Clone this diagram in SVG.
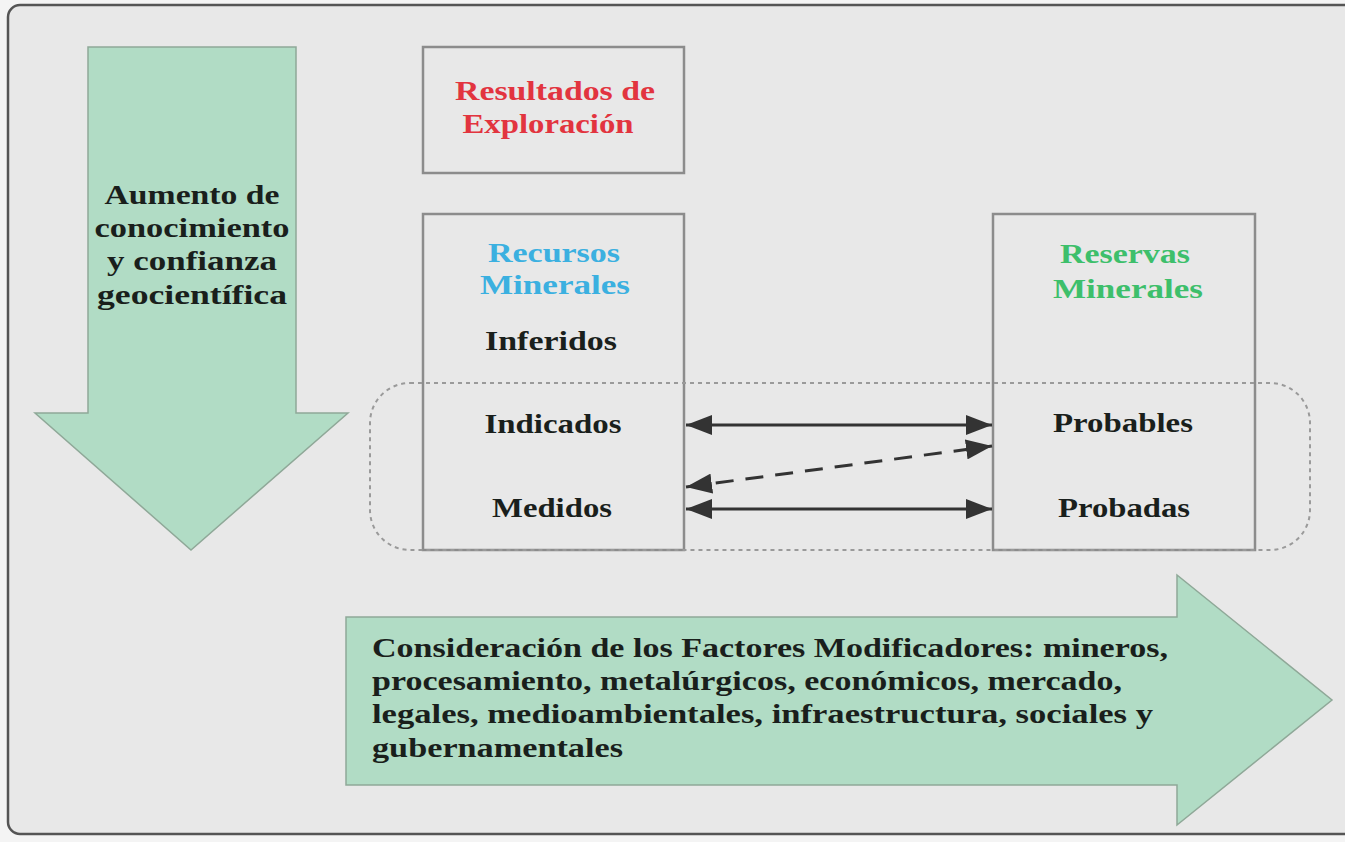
<svg xmlns="http://www.w3.org/2000/svg" width="1345" height="842" viewBox="0 0 1345 842">
<defs>
<style>
.frame{fill:#e8e8e8;stroke:#555;stroke-width:2.5}
.green{fill:#b1dcc5;stroke:#8fa898;stroke-width:1.5}
.box{fill:#e8e8e8;stroke:#8c8c8c;stroke-width:2.5}
.grp{fill:none;stroke:#9a9a9a;stroke-width:2;stroke-dasharray:4 4}
.conn{stroke:#333;stroke-width:3;fill:none}
.dash{stroke-dasharray:18 12}
text{font-family:"Liberation Serif","Times New Roman",serif;font-weight:bold;font-size:27px}
.c{text-anchor:middle}
.dark{fill:#1a1f1c}
.red{fill:#e2343f}
.blue{fill:#3bb0e0}
.grn{fill:#3dbf6b}
</style>
<marker id="ah" viewBox="0 0 26 20" refX="26" refY="10" markerWidth="26" markerHeight="20" markerUnits="userSpaceOnUse" orient="auto-start-reverse">
<path d="M0,0 L26,10 L0,20 Z" fill="#333"/>
</marker>
</defs>
<rect x="0" y="0" width="1345" height="842" fill="#f4f4f4"/>
<rect class="frame" x="8" y="5" width="1360" height="829" rx="12"/>

<g id="arrow-down">
<polygon class="green" points="88,47 296,47 296,413 348,413 191,550 35,413 88,413"/>
<text class="c dark" x="192" y="204" textLength="175" lengthAdjust="spacingAndGlyphs">Aumento de</text>
<text class="c dark" x="192" y="237" textLength="195" lengthAdjust="spacingAndGlyphs">conocimiento</text>
<text class="c dark" x="192" y="270" textLength="170" lengthAdjust="spacingAndGlyphs">y confianza</text>
<text class="c dark" x="192" y="304" textLength="190" lengthAdjust="spacingAndGlyphs">geocientífica</text>
</g>

<g id="resultados">
<rect class="box" x="423" y="47" width="261" height="126"/>
<text class="c red" x="555" y="100" textLength="200" lengthAdjust="spacingAndGlyphs">Resultados de</text>
<text class="c red" x="548" y="133" textLength="171" lengthAdjust="spacingAndGlyphs">Exploración</text>
</g>

<g id="recursos">
<rect class="box" x="423" y="214" width="261" height="336"/>
<text class="c blue" x="554" y="262" textLength="132" lengthAdjust="spacingAndGlyphs">Recursos</text>
<text class="c blue" x="555" y="294" textLength="150" lengthAdjust="spacingAndGlyphs">Minerales</text>
<text class="c dark" x="551" y="350" textLength="132" lengthAdjust="spacingAndGlyphs">Inferidos</text>
<text class="c dark" x="553" y="433" textLength="137" lengthAdjust="spacingAndGlyphs">Indicados</text>
<text class="c dark" x="552" y="517" textLength="120" lengthAdjust="spacingAndGlyphs">Medidos</text>
</g>

<g id="reservas">
<rect class="box" x="993" y="214" width="262" height="336"/>
<text class="c grn" x="1125" y="263" textLength="130" lengthAdjust="spacingAndGlyphs">Reservas</text>
<text class="c grn" x="1128" y="298" textLength="150" lengthAdjust="spacingAndGlyphs">Minerales</text>
<text class="c dark" x="1123" y="432" textLength="140" lengthAdjust="spacingAndGlyphs">Probables</text>
<text class="c dark" x="1124" y="517" textLength="132" lengthAdjust="spacingAndGlyphs">Probadas</text>
</g>

<g id="grupo">
<rect class="grp" x="370" y="383" width="940" height="167" rx="40"/>
</g>

<g id="connectors">
<line class="conn" x1="686" y1="425" x2="992" y2="425" marker-start="url(#ah)" marker-end="url(#ah)"/>
<line class="conn dash" x1="686" y1="487" x2="992" y2="446" marker-start="url(#ah)" marker-end="url(#ah)"/>
<line class="conn" x1="686" y1="509" x2="992" y2="509" marker-start="url(#ah)" marker-end="url(#ah)"/>
</g>

<g id="arrow-right">
<polygon class="green" points="346,617 1177,617 1177,575 1332,700 1177,825 1177,785 346,785"/>
<text class="dark" x="372" y="657" textLength="796" lengthAdjust="spacingAndGlyphs">Consideración de los Factores Modificadores: mineros,</text>
<text class="dark" x="372" y="690" textLength="750" lengthAdjust="spacingAndGlyphs">procesamiento, metalúrgicos, económicos, mercado,</text>
<text class="dark" x="372" y="723" textLength="781" lengthAdjust="spacingAndGlyphs">legales, medioambientales, infraestructura, sociales y</text>
<text class="dark" x="372" y="757" textLength="251" lengthAdjust="spacingAndGlyphs">gubernamentales</text>
</g>
</svg>
